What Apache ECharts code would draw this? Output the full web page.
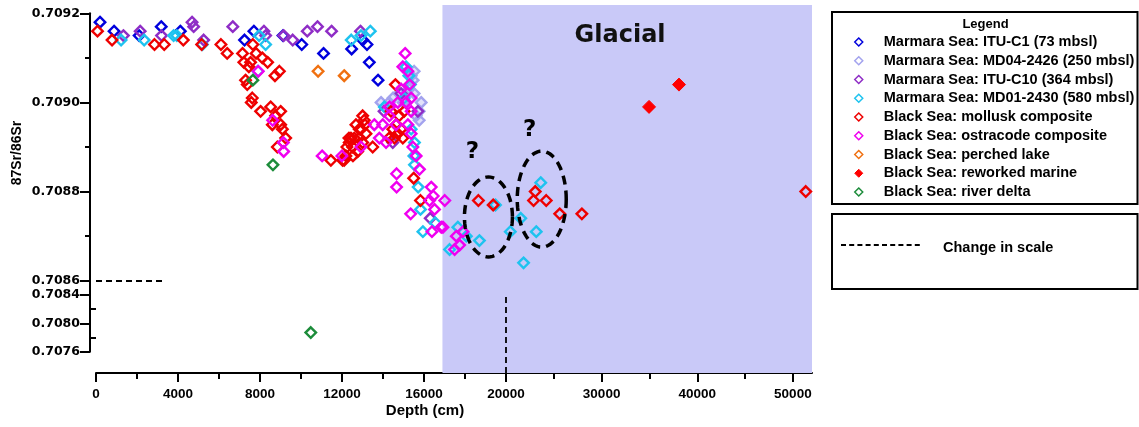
<!DOCTYPE html>
<html><head><meta charset="utf-8">
<script src="https://cdn.jsdelivr.net/npm/echarts@6/dist/echarts.min.js"></script>
<style>html,body{margin:0;padding:0;background:#fff}#c{width:1139px;height:427px}</style>
</head><body><div id="c"></div>
<script>
// ---------------- DATA (depth cm, 87Sr/86Sr) ----------------
const ituC1 = [[196,0.70918],[881,0.70916],[2105,0.70915],[3182,0.70917],[4113,0.70916],[7246,0.70914],[7701,0.70916],[9121,0.70915],[10036,0.70913],[11099,0.70911],[12470,0.70912],[13009,0.70914],[13219,0.70913],[13332,0.70909],[13758,0.70905]];
const md04 = [[13905,0.70900],[14149,0.70899],[14296,0.70900],[14492,0.70901],[14786,0.70902],[14982,0.70900],[15178,0.70902],[15373,0.70906],[15471,0.70905],[15520,0.70907],[15520,0.70902],[15618,0.70897],[15765,0.70896],[15765,0.70898],[15863,0.70900],[15276,0.70903]];
const ituC10 = [[1337,0.70915],[2154,0.70916],[3197,0.70915],[4685,0.70918],[4764,0.70917],[5253,0.70914],[6673,0.70917],[8191,0.70916],[8274,0.70915],[9155,0.70915],[9596,0.70914],[10306,0.70916],[10805,0.70917],[11491,0.70916],[12901,0.70916],[14884,0.70902],[15701,0.70898],[14477,0.70891],[14051,0.70898],[16304,0.70874]];
const md01 = [[1224,0.70914],[2350,0.70914],[3785,0.70915],[3941,0.70915],[5190,0.70913],[7956,0.70915],[8274,0.70913],[7897,0.70907],[12451,0.70914],[12925,0.70915],[13381,0.70916],[15129,0.70908],[15261,0.70906],[15339,0.70904],[15031,0.70901],[14066,0.70899],[15373,0.70894],[15535,0.70891],[15505,0.70888],[15535,0.70886],[15716,0.70881],[15829,0.70876],[15946,0.70871],[16548,0.70873],[17650,0.70872],[17249,0.70867],[18066,0.70870],[18703,0.70869],[19486,0.70877],[20449,0.70871],[21545,0.70874],[23163,0.70871],[23633,0.70882],[21837,0.70864]];
const mollusk = [[73,0.70916],[783,0.70914],[2854,0.70913],[3329,0.70913],[4259,0.70914],[5155,0.70913],[6095,0.70913],[6399,0.70911],[7148,0.70911],[7652,0.70913],[7809,0.70911],[8113,0.70910],[8372,0.70909],[7211,0.70909],[7457,0.70908],[7540,0.70909],[7295,0.70905],[7378,0.70904],[8945,0.70907],[8730,0.70906],[7623,0.70901],[7574,0.70900],[8029,0.70898],[8519,0.70899],[9008,0.70898],[8764,0.70897],[9008,0.70895],[9092,0.70894],[8602,0.70895],[9253,0.70892],[8847,0.70890],[11457,0.70887],[12108,0.70887],[12030,0.70887],[12436,0.70892],[12519,0.70890],[13009,0.70897],[13498,0.70890],[14605,0.70904],[13087,0.70896],[12842,0.70894],[12597,0.70892],[12353,0.70891],[13009,0.70891],[13170,0.70893],[12764,0.70889],[12680,0.70895],[12925,0.70894],[12240,0.70890],[12534,0.70888],[12827,0.70892],[13121,0.70895],[12338,0.70892],[12191,0.70888],[14639,0.70895],[14722,0.70893],[14556,0.70892],[14967,0.70892],[14477,0.70894],[14786,0.70897],[14296,0.70892],[14884,0.70894],[15031,0.70898],[14394,0.70898],[15496,0.70883],[15829,0.70878],[18654,0.70878],[19374,0.70877],[23058,0.70880],[22881,0.70878],[24207,0.70878],[25616,0.70875],[27933,0.70875],[51347,0.70880]];
const ostracode = [[7917,0.70907],[8617,0.70896],[9141,0.70891],[9155,0.70889],[11031,0.70888],[11995,0.70888],[12925,0.70890],[13576,0.70895],[13987,0.70895],[13821,0.70892],[14149,0.70891],[14311,0.70899],[14311,0.70897],[14639,0.70895],[14722,0.70900],[15129,0.70900],[15212,0.70895],[15373,0.70898],[15373,0.70901],[15080,0.70911],[14967,0.70908],[15212,0.70907],[15290,0.70904],[14884,0.70903],[15373,0.70893],[15457,0.70890],[15618,0.70888],[15780,0.70885],[14663,0.70884],[14663,0.70881],[15349,0.70875],[16353,0.70881],[16451,0.70879],[16270,0.70878],[16514,0.70876],[17013,0.70878],[16842,0.70872],[16387,0.70871],[16925,0.70872],[17576,0.70870],[17738,0.70868],[17493,0.70867],[17904,0.70871]];
const perched = [[10834,0.70907],[12108,0.70906]];
const reworked = [[34958,0.70899],[38090,0.70904]];
const riverDelta = [[7652,0.70905],[8632,0.70886],[10477,0.70787]];

const seriesNames = ['Marmara Sea: ITU-C1 (73 mbsl)','Marmara Sea: MD04-2426 (250 mbsl)','Marmara Sea: ITU-C10 (364 mbsl)','Marmara Sea: MD01-2430 (580 mbsl)','Black Sea: mollusk composite','Black Sea: ostracode composite','Black Sea: perched lake','Black Sea: reworked marine','Black Sea: river delta'];
const seriesData = [ituC1, md04, ituC10, md01, mollusk, ostracode, perched, reworked, riverDelta];

const xTicksLeft = [0, 20000];          // left segment range, label step 4000
const xTicksRight = [30000, 40000, 50000];
const xMinorRight = [25000, 35000, 45000];
const yLowerLabels = [0.7076, 0.7080, 0.7084];
const yLowerMinor = [0.7078, 0.7082];
const glacialStart = 16900;
const breakX = 20000, breakY = 0.7086;

// annotations in data units
const ellipses = [{c:[19143,0.708743], rx:24, ry:40}, {c:[23737,0.708783], rx:24.5, ry:48}];
const qMarks = [[18360,0.708888],[22463,0.708939]];
const glacialLabelPos = [31931,0.709154];

// ---------------- STYLE ----------------
const colors = ['#0000dd','#a3a3ee','#8f2dc6','#1ec3ef','#ee0000','#f000f0','#f07010','#ff0000','#1c8c3a'];
const filled = [false,false,false,false,false,false,false,true,false];
const BOLD_SANS = '"Liberation Sans", Arial, sans-serif';
const DJ = '"DejaVu Sans", sans-serif';

const L = 96, XB = 506, R = 812, TOP = 13.3, YB = 280.7, YL = 351.7, XAX = 373, BANDTOP = 5;

const axLine = {show:true, onZero:false, lineStyle:{color:'#000', width:2}};
const fmt4 = v => Number(v).toFixed(4);
const fmtInt = v => String(Math.round(v));

const grids = [
  {left:L, top:BANDTOP, width:XB-L, height:XAX-BANDTOP},   // 0 band left + bottom axis
  {left:XB, top:BANDTOP, width:R-XB, height:XAX-BANDTOP},  // 1 band right + bottom axis
  {left:L, top:TOP, width:XB-L, height:YB-TOP},            // 2 upper-left
  {left:XB, top:TOP, width:R-XB, height:YB-TOP},           // 3 upper-right
  {left:L, top:YB, width:XB-L, height:YL-YB}               // 4 lower-left
].map(g => Object.assign({outerBoundsMode:'none', containLabel:false, show:false}, g));

const xLabel = {color:'#000', fontWeight:'bold', fontSize:13.5, fontFamily:BOLD_SANS, margin:14, formatter:fmtInt};
const xAxes = [
  {gridIndex:0, type:'value', min:xTicksLeft[0], max:xTicksLeft[1], interval:4000, position:'bottom',
   axisLine:axLine, axisTick:{length:9, lineStyle:{color:'#000', width:2}},
   minorTick:{show:true, splitNumber:2, length:6, lineStyle:{color:'#000', width:2}},
   axisLabel:xLabel, splitLine:{show:false}},
  {gridIndex:1, type:'value', min:breakX, max:52000, position:'bottom',
   axisLine:axLine, axisTick:{length:9, customValues:[breakX].concat(xTicksRight), lineStyle:{color:'#000', width:2}},
   axisLabel:Object.assign({customValues:xTicksRight}, xLabel), splitLine:{show:false}},
  {gridIndex:1, type:'value', min:breakX, max:52000, position:'bottom',
   axisLine:{show:false}, axisTick:{length:6, customValues:xMinorRight, lineStyle:{color:'#000', width:2}},
   axisLabel:{show:false}, splitLine:{show:false}},
  {gridIndex:2, type:'value', min:0, max:breakX, show:false},
  {gridIndex:3, type:'value', min:breakX, max:52000, show:false},
  {gridIndex:4, type:'value', min:0, max:breakX, show:false}
];
const yLabel = {color:'#000', fontWeight:'bold', fontSize:12.5, fontFamily:DJ, margin:10, formatter:fmt4};
const yAxes = [
  {gridIndex:0, type:'value', min:0.7073, max:0.71248, show:false},
  {gridIndex:1, type:'value', min:0, max:1, show:false},
  {gridIndex:2, type:'value', min:breakY, max:0.7092, interval:0.0002, offset:6, position:'left',
   axisLine:axLine, axisTick:{length:10, lineStyle:{color:'#000', width:2}},
   minorTick:{show:true, splitNumber:2, length:5, lineStyle:{color:'#000', width:2}},
   axisLabel:yLabel, splitLine:{show:false}},
  {gridIndex:3, type:'value', min:breakY, max:0.7092, show:false},
  {gridIndex:4, type:'value', min:0.7076, max:breakY, offset:6, position:'left',
   axisLine:axLine, axisTick:{length:10, customValues:yLowerLabels, lineStyle:{color:'#000', width:2}},
   axisLabel:Object.assign({customValues:yLowerLabels}, yLabel), splitLine:{show:false}},
  {gridIndex:4, type:'value', min:0.7076, max:breakY, offset:6, position:'left',
   axisLine:{show:false}, axisTick:{length:5, customValues:yLowerMinor, lineStyle:{color:'#000', width:2}},
   axisLabel:{show:false}, splitLine:{show:false}}
];

const dashed = {color:'#000', width:1.8, type:[6,4]};
const bandStyle = {color:'#c9c9f8', borderWidth:0};
const series = [
  {type:'scatter', xAxisIndex:0, yAxisIndex:0, data:[], z:0, silent:true,
   markArea:{silent:true, itemStyle:bandStyle, data:[[{xAxis:glacialStart},{xAxis:breakX}]]},
   markLine:{silent:true, symbol:'none', label:{show:false}, lineStyle:dashed, z:10,
     data:[[{coord:[breakX,0.70837]},{coord:[breakX,0.7073]}]]}},
  {type:'scatter', xAxisIndex:1, yAxisIndex:1, data:[], z:0, silent:true,
   markArea:{silent:true, itemStyle:bandStyle, data:[[{xAxis:breakX},{xAxis:52000}]]}},
  {type:'scatter', xAxisIndex:3, yAxisIndex:2, data:[], z:1, silent:true,
   markLine:{silent:true, symbol:'none', label:{show:false}, lineStyle:dashed,
     data:[[{coord:[0,breakY]},{coord:[3300,breakY]}]]}}
];
const parts = [
  {x:3, y:2, f:p => p[0] <= breakX && p[1] >= breakY},
  {x:4, y:3, f:p => p[0] > breakX && p[1] >= breakY},
  {x:5, y:4, f:p => p[1] < breakY}
];
seriesNames.forEach((name, i) => {
  parts.forEach(pt => {
    series.push({
      type:'scatter', name, xAxisIndex:pt.x, yAxisIndex:pt.y,
      data: seriesData[i].filter(pt.f),
      symbol:'diamond', symbolSize: filled[i] ? 13 : 10.5, z:2 + i * 0.01,
      itemStyle: filled[i] ? {color:colors[i], borderColor:colors[i], borderWidth:1, opacity:1}
                          : {color: i === 1 ? 'rgba(170,170,240,0.35)' : 'rgba(255,255,255,0)', borderColor:colors[i], borderWidth:2.4, opacity:1},
      emphasis:{disabled:true}
    });
  });
});

const legendData = seriesNames.map((n, i) => ({
  name:n, icon:'diamond',
  itemStyle: filled[i] ? {color:colors[i], borderColor:colors[i], borderWidth:1}
                       : {color:'#fff', borderColor:colors[i], borderWidth:1.5}
}));

const chart = echarts.init(document.getElementById('c'), null, {renderer:'canvas'});
chart.setOption({
  animation:false,
  backgroundColor:'#fff',
  grid:grids, xAxis:xAxes, yAxis:yAxes, series,
  legend:{orient:'vertical', left:849, top:29, itemWidth:8, itemHeight:8, itemGap:2.75,
    selectedMode:false, data:legendData,
    textStyle:{color:'#000', fontWeight:'bold', fontSize:14.5, fontFamily:BOLD_SANS, lineHeight:16, padding:[0,0,0,16]}}
});

// annotations, positioned through the axes' scales
function px(pt) {
  return pt[0] <= breakX ? chart.convertToPixel({xAxisIndex:3, yAxisIndex:2}, pt)
                         : chart.convertToPixel({xAxisIndex:4, yAxisIndex:3}, pt);
}
const graphic = [];
ellipses.forEach((e, k) => {
  const c = px(e.c); const pts = [];
  for (let t = 0; t < 72; t++) { const a = t / 72 * Math.PI * 2; pts.push([c[0] + e.rx * Math.cos(a), c[1] + e.ry * Math.sin(a)]); }
  graphic.push({type:'polygon', id:'ell'+k, z:50, shape:{points:pts}, style:{fill:'none', stroke:'#000', lineWidth:3.5, lineDash:[9,6]}});
});
qMarks.forEach((q, k) => {
  const c = px(q);
  graphic.push({type:'text', id:'q'+k, z:50, x:c[0], y:c[1], style:{text:'?', fill:'#000', font:'bold 23px "DejaVu Sans", sans-serif', align:'center', verticalAlign:'middle'}});
});
const gp = px(glacialLabelPos);
graphic.push({type:'text', id:'glacial', z:50, x:gp[0], y:gp[1] + 2, style:{text:'Glacial', fill:'#111', font:'bold 24px "DejaVu Sans", sans-serif', align:'center', verticalAlign:'middle'}});
// axis titles
graphic.push({type:'text', id:'xname', x:425, y:411, style:{text:'Depth (cm)', fill:'#000', font:'bold 15px "Liberation Sans", Arial, sans-serif', align:'center', verticalAlign:'middle'}});
graphic.push({type:'text', id:'yname', x:17, y:153, rotation:Math.PI/2, style:{text:'87Sr/86Sr', fill:'#000', font:'bold 14px "Liberation Sans", Arial, sans-serif', align:'center', verticalAlign:'middle'}});
// legend frame
graphic.push({type:'rect', id:'legbox', z:-1, shape:{x:832, y:12, width:305.5, height:192}, style:{fill:'#fff', stroke:'#000', lineWidth:2}});
graphic.push({type:'text', id:'legtitle', x:985.5, y:24, style:{text:'Legend', fill:'#000', font:'bold 13px "Liberation Sans", Arial, sans-serif', align:'center', verticalAlign:'middle'}});
graphic.push({type:'rect', id:'scalebox', shape:{x:832, y:214, width:305.5, height:75}, style:{fill:'#fff', stroke:'#000', lineWidth:2}});
graphic.push({type:'line', id:'scaleline', shape:{x1:841, y1:245, x2:923, y2:245}, style:{stroke:'#000', lineWidth:1.8, lineDash:[5,3.2]}});
graphic.push({type:'text', id:'scaletext', x:943, y:248, style:{text:'Change in scale', fill:'#000', font:'bold 14.5px "Liberation Sans", Arial, sans-serif', align:'left', verticalAlign:'middle'}});
chart.setOption({graphic});
</script>
</body></html>
